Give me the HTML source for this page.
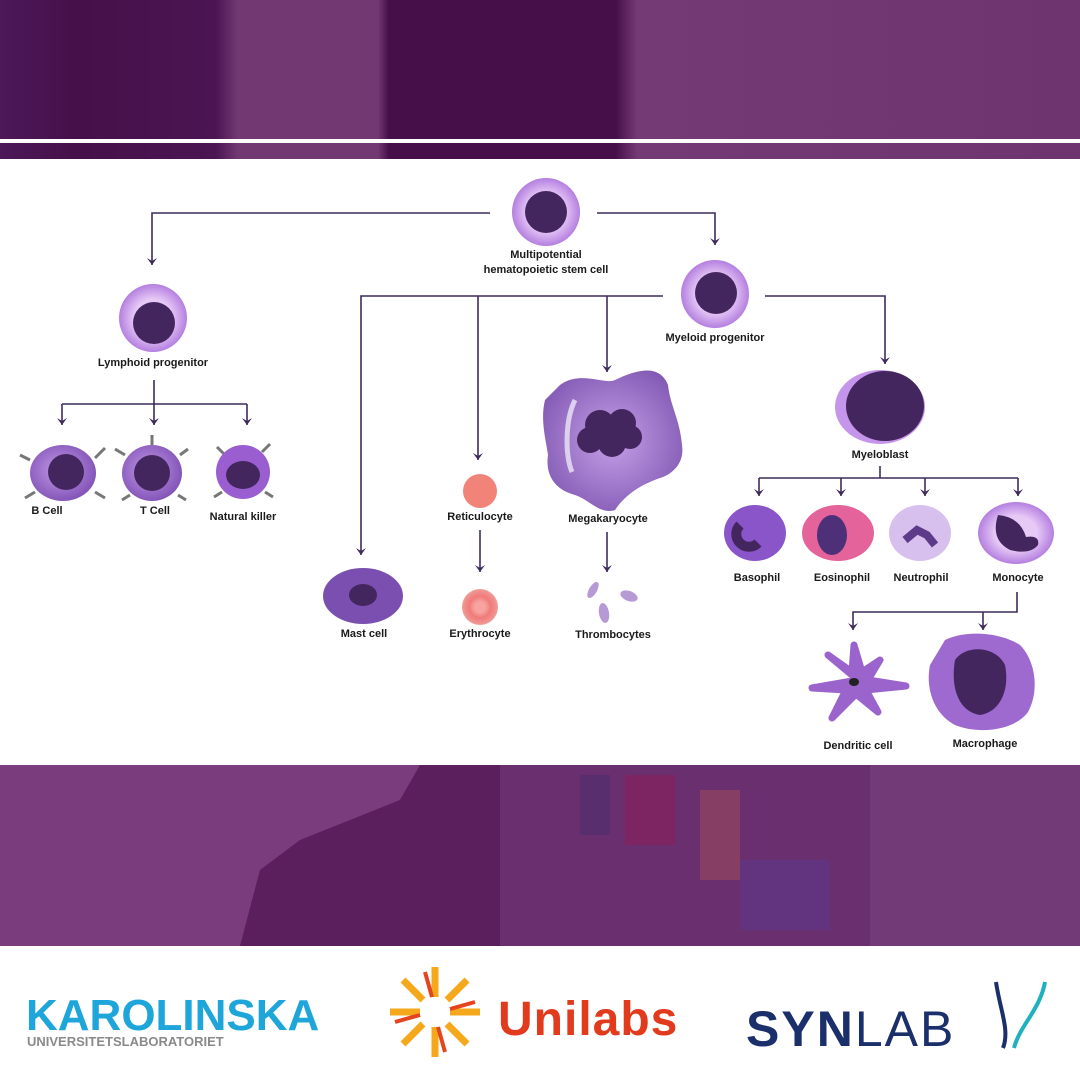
<!DOCTYPE html>
<html><head><meta charset="utf-8"><style>
html,body{margin:0;padding:0;width:1080px;height:1080px;overflow:hidden;background:#fff}
text{font-family:"Liberation Sans",sans-serif;font-weight:bold;fill:#1a1a1a}
</style></head><body>
<svg width="1080" height="1080" viewBox="0 0 1080 1080" xmlns="http://www.w3.org/2000/svg">
<defs>
<linearGradient id="top" x1="0" x2="1" y1="0" y2="0">
<stop offset="0" stop-color="#4c1858"/><stop offset="0.07" stop-color="#46104a"/><stop offset="0.2" stop-color="#4b1553"/>
<stop offset="0.22" stop-color="#723872"/><stop offset="0.35" stop-color="#723872"/><stop offset="0.36" stop-color="#470f4a"/>
<stop offset="0.57" stop-color="#470f4a"/><stop offset="0.59" stop-color="#743a75"/><stop offset="1" stop-color="#6e3470"/>
</linearGradient>
<radialGradient id="cell" cx="0.5" cy="0.5" r="0.5"><stop offset="0.55" stop-color="#e7c9f6"/><stop offset="1" stop-color="#b47fe0"/></radialGradient>
<radialGradient id="dark" cx="0.45" cy="0.45" r="0.6"><stop offset="0" stop-color="#c49be8"/><stop offset="1" stop-color="#7e4fb4"/></radialGradient>
<radialGradient id="mega" cx="0.5" cy="0.5" r="0.6"><stop offset="0" stop-color="#c6a0e8"/><stop offset="1" stop-color="#7f57b2"/></radialGradient>
<radialGradient id="red" cx="0.5" cy="0.5" r="0.5"><stop offset="0.3" stop-color="#f7a3a0"/><stop offset="0.6" stop-color="#f07a7a"/><stop offset="1" stop-color="#f09c98"/></radialGradient>
<marker id="a" markerWidth="8" markerHeight="10" refX="7" refY="5" orient="auto" markerUnits="userSpaceOnUse">
<path d="M0,0 L7,5 L0,10 L3,5 Z" fill="#3f2a5c"/></marker>
</defs>
<rect x="0" y="0" width="1080" height="159" fill="url(#top)"/>
<rect x="0" y="139" width="1080" height="4" fill="#fff"/>
<rect x="0" y="765" width="1080" height="181" fill="#6a2f6e"/>
<path d="M0 765 H420 L400 800 300 840 260 870 240 946 H0 Z" fill="#7a3c7c"/>
<path d="M260 870 L300 840 400 800 420 765 H500 L500 946 H240 Z" fill="#5c1f5e"/>
<rect x="580" y="775" width="30" height="60" fill="#4e2f6e" opacity=".6"/>
<rect x="625" y="775" width="50" height="70" fill="#8a1e5a" opacity=".6"/>
<rect x="700" y="790" width="40" height="90" fill="#9a4a5e" opacity=".6"/>
<rect x="740" y="860" width="90" height="70" fill="#5a3a90" opacity=".5"/>
<rect x="870" y="765" width="210" height="181" fill="#723a76"/>
<g stroke="#3f2a5c" stroke-width="1.6" fill="none">
<path d="M490 213 H152 V265" marker-end="url(#a)"/>
<path d="M597 213 H715 V245" marker-end="url(#a)"/>
<path d="M663 296 H361 V555" marker-end="url(#a)"/>
<path d="M478 296 V460" marker-end="url(#a)"/>
<path d="M607 296 V372" marker-end="url(#a)"/>
<path d="M765 296 H885 V364" marker-end="url(#a)"/>
<path d="M154 380 V425" marker-end="url(#a)"/>
<path d="M62 404 H247" /><path d="M62 404 V425" marker-end="url(#a)"/><path d="M247 404 V425" marker-end="url(#a)"/>
<path d="M880 466 V478"/><path d="M759 478 H1018"/>
<path d="M759 478 V496" marker-end="url(#a)"/><path d="M841 478 V496" marker-end="url(#a)"/><path d="M925 478 V496" marker-end="url(#a)"/><path d="M1018 478 V496" marker-end="url(#a)"/>
<path d="M1017 592 V612 H853 V630" marker-end="url(#a)"/><path d="M983 612 V630" marker-end="url(#a)"/>
<path d="M480 530 V572" marker-end="url(#a)"/>
<path d="M607 532 V572" marker-end="url(#a)"/>
</g>
<g>
<circle cx="546" cy="212" r="34" fill="url(#cell)"/><circle cx="546" cy="212" r="21" fill="#44265e"/>
<circle cx="153" cy="318" r="34" fill="url(#cell)"/><circle cx="154" cy="323" r="21" fill="#44265e"/>
<circle cx="715" cy="294" r="34" fill="url(#cell)"/><circle cx="716" cy="293" r="21" fill="#44265e"/>
<ellipse cx="880" cy="407" rx="45" ry="37" fill="#c595ec"/><ellipse cx="885" cy="406" rx="39" ry="35" fill="#44265e"/>
</g>
<g stroke="#777" stroke-width="3">
<path d="M30 460 l-10 -5 M95 458 l10 -10 M35 492 l-10 6 M95 492 l10 6"/>
<path d="M125 455 l-10 -6 M152 445 v-10 M180 455 l8 -6 M130 495 l-8 5 M178 495 l8 5"/>
<path d="M225 455 l-8 -8 M262 452 l8 -8 M222 492 l-8 5 M265 492 l8 5"/>
</g>
<ellipse cx="63" cy="473" rx="33" ry="28" fill="url(#dark)"/><circle cx="66" cy="472" r="18" fill="#44265e"/>
<ellipse cx="152" cy="473" rx="30" ry="28" fill="url(#dark)"/><circle cx="152" cy="473" r="18" fill="#44265e"/>
<ellipse cx="243" cy="472" rx="27" ry="27" fill="#9a5ed0"/><ellipse cx="243" cy="475" rx="17" ry="14" fill="#44265e"/>
<ellipse cx="363" cy="596" rx="40" ry="28" fill="#7a4fb0"/><ellipse cx="363" cy="595" rx="14" ry="11" fill="#44265e"/>
<circle cx="480" cy="491" r="17" fill="#f18378"/>
<circle cx="480" cy="607" r="18" fill="url(#red)"/>
<path d="M560 385 C580 370 605 385 615 380 C640 368 660 365 668 385 C670 405 680 420 682 445 C685 465 670 475 660 478 C640 485 625 495 615 510 C600 515 590 500 575 495 C555 490 545 475 548 455 C546 440 540 420 545 400 Z" fill="url(#mega)"/>
<path d="M575 400 C565 420 565 455 572 472" stroke="#ddd0ee" stroke-width="5" fill="none"/>
<g fill="#44265e"><circle cx="600" cy="425" r="15"/><circle cx="622" cy="423" r="14"/><circle cx="590" cy="440" r="13"/><circle cx="612" cy="443" r="14"/><circle cx="630" cy="437" r="12"/></g>
<g fill="#b69ad6"><ellipse cx="593" cy="590" rx="4" ry="9" transform="rotate(30 593 590)"/><ellipse cx="629" cy="596" rx="9" ry="5" transform="rotate(20 629 596)"/><ellipse cx="604" cy="613" rx="5" ry="10" transform="rotate(-10 604 613)"/></g>
<ellipse cx="755" cy="533" rx="31" ry="28" fill="#8a55c8"/><path d="M740 525 a12 12 0 1 0 18 18" stroke="#44265e" stroke-width="10" fill="none"/>
<ellipse cx="838" cy="533" rx="36" ry="28" fill="#e4639a"/><ellipse cx="832" cy="535" rx="15" ry="20" fill="#4e3079"/>
<ellipse cx="920" cy="533" rx="31" ry="28" fill="#d8c0ee"/><path d="M905 540 l12 -10 l10 5 l8 10" stroke="#5e3b8a" stroke-width="8" fill="none"/>
<ellipse cx="1016" cy="533" rx="38" ry="31" fill="url(#cell)"/><path d="M998 515 q-8 25 12 35 q20 5 28 -5 q2 -10 -12 -8 q-6 -20 -28 -22z" fill="#44265e"/>
<path d="M858 680 L828 655 L852 672 L854 645 L862 672 L880 660 L868 680 L906 686 L866 690 L878 712 L856 694 L832 718 L846 690 L812 688 Z" fill="#9a64cc" stroke="#9a64cc" stroke-width="7" stroke-linejoin="round"/>
<ellipse cx="854" cy="682" rx="5" ry="4" fill="#222"/>
<path d="M945 640 C965 630 1000 632 1020 645 C1035 660 1040 690 1028 712 C1015 730 980 735 955 725 C935 715 925 690 930 665 Z" fill="#9e6ad0"/>
<path d="M955 660 C965 645 995 645 1005 665 C1010 690 1000 712 980 715 C960 712 950 690 955 660 Z" fill="#44265e"/>
<g font-size="11" text-anchor="middle">
<text x="546" y="258">Multipotential</text><text x="546" y="273">hematopoietic stem cell</text>
<text x="153" y="366">Lymphoid progenitor</text>
<text x="715" y="341">Myeloid progenitor</text>
<text x="880" y="458">Myeloblast</text>
<text x="47" y="514">B Cell</text><text x="155" y="514">T Cell</text><text x="243" y="520">Natural killer</text>
<text x="364" y="637">Mast cell</text><text x="480" y="520">Reticulocyte</text><text x="480" y="637">Erythrocyte</text>
<text x="608" y="522">Megakaryocyte</text><text x="613" y="638">Thrombocytes</text>
<text x="757" y="581">Basophil</text><text x="842" y="581">Eosinophil</text><text x="921" y="581">Neutrophil</text><text x="1018" y="581">Monocyte</text>
<text x="858" y="749">Dendritic cell</text><text x="985" y="747">Macrophage</text>
</g>
<text x="26" y="1030" style="font-size:44px;fill:#1ea6db;letter-spacing:0px">KAROLINSKA</text>
<text x="27" y="1046" style="font-size:13px;fill:#8a8a8a">UNIVERSITETSLABORATORIET</text>
<g transform="translate(435,1012)" stroke-width="7">
<g stroke="#f5a81c"><path d="M0 -45 V-15 M0 15 V45 M-45 0 H-15 M15 0 H45 M-32 -32 L-12 -12 M12 12 L32 32 M32 -32 L12 -12 M-12 12 L-32 32"/></g>
<g stroke="#e6441f" stroke-width="4"><path d="M-10 -40 L-3 -15 M10 40 L3 15 M-40 10 L-15 3 M40 -10 L15 -3"/></g>
</g>
<text x="498" y="1035" style="font-size:48px;fill:#e23a1c;letter-spacing:1px">Unilabs</text>
<text x="746" y="1046" style="font-size:50px;fill:#1b2f6b;font-weight:bold;letter-spacing:2px">SYN<tspan style="font-weight:normal">LAB</tspan></text>
<path d="M996 982 C1000 1010 1010 1030 1003 1048" stroke="#1b2f6b" stroke-width="4" fill="none"/>
<path d="M1045 982 C1040 1010 1020 1025 1014 1048" stroke="#1fb1c0" stroke-width="4" fill="none"/>
</svg>
</body></html>
